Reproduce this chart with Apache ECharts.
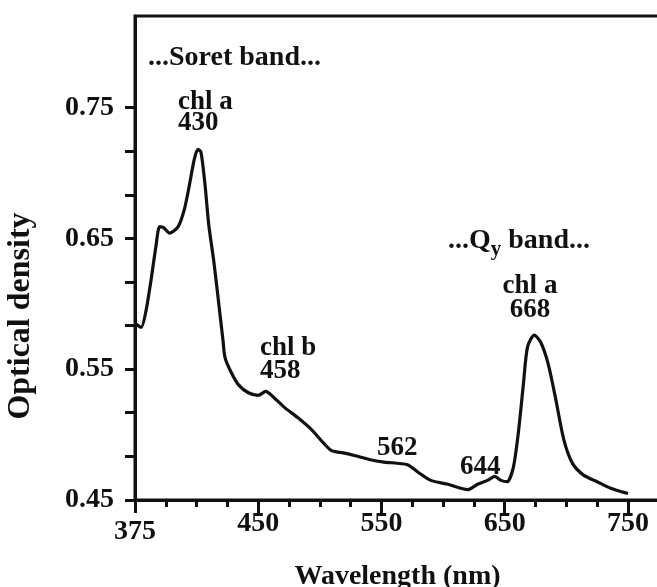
<!DOCTYPE html>
<html>
<head>
<meta charset="utf-8">
<script src="https://cdn.jsdelivr.net/npm/echarts@6/dist/echarts.min.js"></script>
<style>
html, body { margin: 0; padding: 0; background: #fff; }
#chart { width: 657px; height: 587px; }
</style>
</head>
<body>
<div id="chart"></div>
<script>
// spectrum
const wavelength = [350, 355, 359, 363, 367, 370, 373.5, 378, 385, 390, 394, 398, 401, 403.5, 406.7, 409.9, 414, 418.1, 421.4, 423,
  427.8, 434, 442, 450, 456, 462, 471, 482, 493, 509, 519, 528, 540, 552, 571, 580, 590, 604, 620, 628,
  636, 642, 647, 652, 657, 661, 665, 668.5, 674, 679, 685, 691, 698, 705, 714, 725, 736, 746, 750]
const density = [0.585, 0.582, 0.595, 0.618, 0.644, 0.659, 0.658, 0.654, 0.659, 0.672, 0.690, 0.710, 0.718, 0.716, 0.692, 0.660, 0.632, 0.599, 0.572, 0.559,
  0.548, 0.538, 0.532, 0.530, 0.533, 0.529, 0.521, 0.513, 0.504, 0.488, 0.486, 0.484, 0.481, 0.479, 0.477, 0.471, 0.465, 0.462, 0.458, 0.462,
  0.465, 0.468, 0.465, 0.464, 0.475, 0.501, 0.537, 0.567, 0.576, 0.571, 0.555, 0.529, 0.496, 0.478, 0.469, 0.464, 0.459, 0.456, 0.455]

const xTickValues = [350, 450, 550, 650, 750]
const xTickLabels = ['375', '450', '550', '650', '750']
const xMinorTicks = [350, 375, 400, 425, 450, 475, 500, 525, 550, 575, 600, 625, 650, 675, 700, 725, 750, 775]
const yTickValues = [0.45, 0.55, 0.65, 0.75]
const yAllTicks = [0.45, 0.4833, 0.5167, 0.55, 0.5833, 0.6167, 0.65, 0.6833, 0.7167, 0.75]

const serif = '"Liberation Serif", "Times New Roman", serif'
const ink = '#111'

const chart = echarts.init(document.getElementById('chart'))

function note (x, y, text, align, lineHeight, size) {
  return {
    type: 'text',
    style: {
      x: x,
      y: y,
      text: text,
      fill: ink,
      font: 'bold ' + (size || 27) + 'px ' + serif,
      align: align || 'left',
      textAlign: align || 'left',
      verticalAlign: 'middle',
      textVerticalAlign: 'middle',
      lineHeight: lineHeight || 26
    }
  }
}

chart.setOption({
  animation: false,
  backgroundColor: '#fff',
  grid: {
    left: 135,
    top: 16,
    width: 525,
    height: 484,
    outerBoundsMode: 'none',
    containLabel: false,
    show: true,
    borderColor: ink,
    borderWidth: 3
  },
  xAxis: [{
    type: 'value',
    min: 350,
    max: 776,
    name: 'Wavelength (nm)',
    nameLocation: 'middle',
    nameGap: 63,
    nameTextStyle: { color: ink, fontFamily: serif, fontWeight: 'bold', fontSize: 28 },
    splitLine: { show: false },
    axisLine: { lineStyle: { color: ink, width: 3 } },
    axisTick: { customValues: xMinorTicks, length: 7, lineStyle: { color: ink, width: 3 } },
    axisLabel: {
      customValues: xTickValues,
      margin: 11,
      color: ink,
      fontFamily: serif,
      fontWeight: 'bold',
      fontSize: 28,
      lineHeight: 26,
      formatter: function (v) {
        const i = xTickValues.indexOf(v)
        if (i === 0) return '{low|' + xTickLabels[i] + '}'
        return i >= 0 ? xTickLabels[i] : ''
      },
      rich: {
        low: { fontFamily: serif, fontWeight: 'bold', fontSize: 28, color: ink, lineHeight: 42 }
      }
    }
  }, {
    // longer ticks for the labelled wavelengths
    type: 'value',
    min: 350,
    max: 776,
    position: 'bottom',
    offset: 0,
    splitLine: { show: false },
    axisLine: { show: false },
    axisLabel: { show: false },
    axisTick: { customValues: xTickValues, length: 13, lineStyle: { color: ink, width: 3 } }
  }],
  yAxis: {
    type: 'value',
    min: 0.45,
    max: 0.82,
    splitLine: { show: false },
    axisLine: { lineStyle: { color: ink, width: 3 } },
    axisTick: { customValues: yAllTicks, length: 10, lineStyle: { color: ink, width: 3 } },
    axisLabel: {
      customValues: yTickValues,
      margin: 21,
      color: ink,
      fontFamily: serif,
      fontWeight: 'bold',
      fontSize: 28,
      formatter: function (v) { return v.toFixed(2) }
    }
  },
  series: [{
    type: 'line',
    data: wavelength.map((w, i) => [w, density[i]]),
    showSymbol: false,
    smooth: 0.25,
    clip: false,
    lineStyle: { color: ink, width: 3.2 }
  }],
  graphic: [
    {
      type: 'text',
      x: 21,
      y: 316,
      rotation: Math.PI / 2,
      style: {
        text: 'Optical density',
        fill: ink,
        font: 'bold 32px ' + serif,
        align: 'center',
        textAlign: 'center',
        verticalAlign: 'middle',
        textVerticalAlign: 'middle'
      }
    },
    note(148, 58, '...Soret band...', 'left', 26, 28),
    note(178, 113, 'chl a\n430', 'left', 21),
    note(260, 360, 'chl b\n458', 'left', 23),
    note(377, 448, '562'),
    note(460, 467, '644'),
    note(530, 298, 'chl a\n668', 'center', 24),
    {
      type: 'text',
      style: {
        x: 448,
        y: 241,
        text: '...Q{sub|y} band...',
        fill: ink,
        font: 'bold 28px ' + serif,
        align: 'left',
        textAlign: 'left',
        verticalAlign: 'middle',
        textVerticalAlign: 'middle',
        rich: {
          sub: { fontFamily: serif, fontWeight: 'bold', fontSize: 21, padding: [18, 0, 0, 0], fill: ink }
        }
      }
    }
  ]
})
</script>
</body>
</html>
